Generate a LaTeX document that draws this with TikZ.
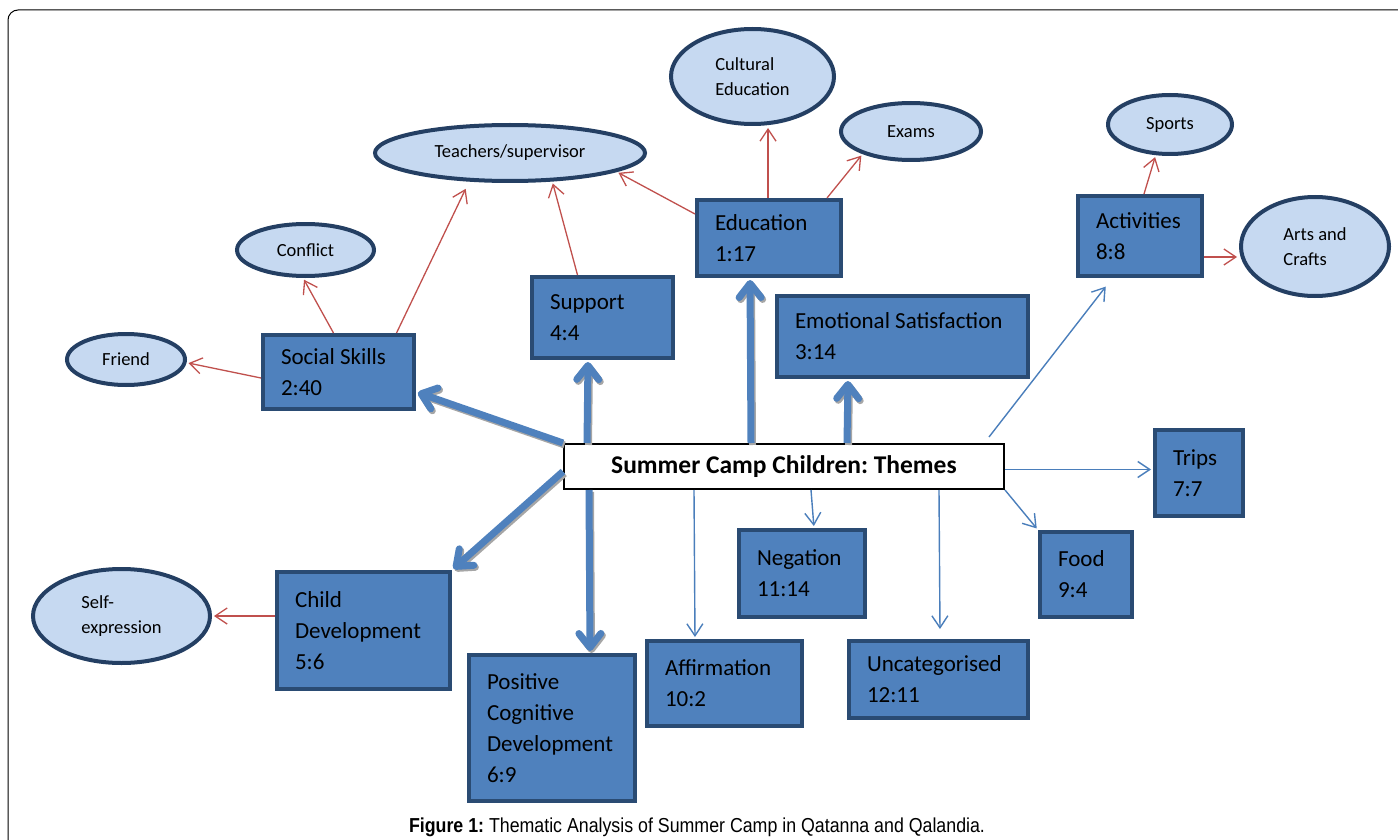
\documentclass[tikz,border=0pt]{standalone}
\usepackage{fontspec}
\usetikzlibrary{arrows.meta,shapes.geometric,positioning}
\newfontfamily\calibri{Carlito}
\newfontfamily\arialfont[FakeStretch=0.88]{Liberation Sans}
\definecolor{boxfill}{HTML}{4F81BD}
\definecolor{boxline}{HTML}{2A4B73}
\definecolor{elfill}{HTML}{C6D9F1}
\definecolor{elline}{HTML}{243F63}
\definecolor{linkred}{HTML}{C0504D}
\definecolor{linkblue}{HTML}{4A7EBB}
\frenchspacing

\begin{document}
\begin{tikzpicture}[x=1pt, y=-1pt, shorten >=2pt,
    theme node/.style={rectangle, draw=boxline, fill=boxfill, line width=4pt, inner xsep=18pt, inner ysep=0pt, align=left, execute at begin node={\hyphenpenalty=10000\spaceskip=0pt\xspaceskip=0pt}, font=\calibri\fontsize{23}{31}\selectfont},
    sub node/.style={ellipse, draw=elline, fill=elfill, line width=4pt, inner sep=0pt, align=left, execute at begin node={\spaceskip=0pt\xspaceskip=0pt}, font=\calibri\fontsize{18.5}{25}\selectfont},
    hub node/.style={rectangle, draw=black, fill=white, line width=2pt, minimum width=440pt, minimum height=45pt, font=\calibri\bfseries\fontsize{25.5}{28}\selectfont},
    theme arrow/.style={color=boxfill, line width=7pt, -{Straight Barb[length=14pt,width=22pt,round]}},
    shade arrow/.style={color=black!35, line width=7pt, -{Straight Barb[length=14pt,width=22pt,round]}, transform canvas={shift={(1.5pt,-2pt)}}},
    thin arrow/.style={color=linkblue, line width=1.4pt, -{Straight Barb[length=12pt,width=16pt]}},
    red arrow/.style={color=linkred, line width=1.3pt, -{Straight Barb[length=12pt,width=16pt]}}]

    \useasboundingbox (0,0) rectangle (1398,840);
    \clip (0,0) rectangle (1398,840);
    \draw[line width=1pt, rounded corners=10pt] (8,10) rectangle (1430,870);

    % sub themes
    \node[sub node, minimum width=270pt, minimum height=56pt] (teach) at (510,153) {Teachers/supervisor};
    \node[sub node, minimum width=163pt, minimum height=95pt] (cult) at (752.5,76.5) {Cultural\\Education};
    \node[sub node, minimum width=140pt, minimum height=57pt] (exm) at (911,131.5) {Exams};
    \node[sub node, minimum width=124pt, minimum height=59pt] (spt) at (1170,124.5) {Sports};
    \node[sub node, minimum width=148pt, minimum height=99pt] (art) at (1315,246.5) {Arts and\\Crafts};
    \node[sub node, minimum width=137pt, minimum height=52pt] (conf) at (305.5,250) {Conflict};
    \node[sub node, minimum width=118pt, minimum height=51pt] (frnd) at (126,359.5) {Friend};
    \node[sub node, minimum width=177pt, minimum height=94pt] (self) at (121.5,616) {Self-\\expression};

    % themes
    \node[theme node, text width=108pt, minimum height=76pt] (edu) at (769,238) {Education\\1:17};
    \node[theme node, text width=105pt, minimum height=81pt] (sup) at (602.5,317.5) {Support\\4:4};
    \node[theme node, text width=115pt, minimum height=74pt] (ssk) at (338.5,372) {Social Skills\\2:40};
    \node[theme node, text width=215pt, minimum height=81pt] (emo) at (902.5,336.5) {Emotional Satisfaction\\3:14};
    \node[theme node, text width=88pt, minimum height=80pt] (act) at (1140,236) {Activities\\8:8};
    \node[theme node, text width=52pt, minimum height=86pt] (trp) at (1199,473) {Trips\\7:7};
    \node[theme node, text width=90pt, minimum height=87pt] (neg) at (802,573.5) {Negation\\11:14};
    \node[theme node, text width=56pt, minimum height=85pt] (food) at (1086,574.5) {Food\\9:4};
    \node[theme node, text width=137pt, minimum height=117pt] (cdev) at (363.5,630.5) {Child\\Development\\5:6};
    \node[theme node, text width=130pt, minimum height=146pt] (pcd) at (552,728) {Positive\\Cognitive\\Development\\6:9};
    \node[theme node, text width=119pt, minimum height=85pt] (aff) at (724.5,683.5) {Affirmation\\10:2};
    \node[theme node, text width=143pt, minimum height=77pt] (unc) at (938.5,679.5) {Uncategorised\\12:11};

    \node[hub node] (hub) at (784,466.5) {Summer Camp Children: Themes};

    % main themes: shadow first, then the arrow
    \foreach \lay in {shade arrow,theme arrow}
        \path[\lay]
            (hub.north west) edge ([yshift=-20pt]ssk.east)
            ([xshift=24pt]hub.north west) edge ([xshift=-14.5pt]sup.south)
            ([xshift=188pt]hub.north west) edge ([xshift=-19pt]edu.south)
            ([xshift=284pt]hub.north west) edge ([xshift=-54.5pt]emo.south)
            ([yshift=-5pt]hub.west) edge (cdev.north east)
            ([xshift=26pt]hub.south west) edge ([xshift=38pt]pcd.north);

    \path[thin arrow]
        ([xshift=131pt]hub.south west) edge ([xshift=-29.5pt]aff.north)
        ([xshift=248pt]hub.south west) edge ([xshift=12pt]neg.north)
        ([xshift=376pt]hub.south west) edge ([xshift=1.5pt,yshift=8pt]unc.north)
        (hub.south east) edge (food.north west)
        ([yshift=-3pt]hub.east) edge ([yshift=3.5pt]trp.west)
        ([xshift=-16pt,yshift=6pt]hub.north east) edge ([xshift=-33pt,yshift=-7pt]act.south);

    \path[red arrow]
        ([xshift=-1pt]edu.north) edge ([xshift=15.5pt]cult.south)
        ([xshift=-16pt]edu.north east) edge (exm.205)
        ([yshift=-16pt]edu.north west) edge (teach.-10)
        ([xshift=-25pt]sup.north) edge (teach.-34)
        ([xshift=58pt]ssk.north) edge[shorten >=8pt] (teach.-145)
        ([xshift=-5pt]ssk.north) edge (conf.-95)
        ([yshift=-6pt]ssk.west) edge (frnd.-3)
        ([xshift=4pt]act.north) edge (spt.-115)
        ([yshift=-21pt]act.east) edge ([yshift=-10.5pt]art.west)
        ([yshift=14.5pt]cdev.west) edge (self.east);

    \node[font=\arialfont\fontsize{20.2}{23}\selectfont, anchor=base] (cap) at (697,832)
        {\textbf{Figure 1:} Thematic Analysis of Summer Camp in Qatanna and Qalandia.};
\end{tikzpicture}
\end{document}
